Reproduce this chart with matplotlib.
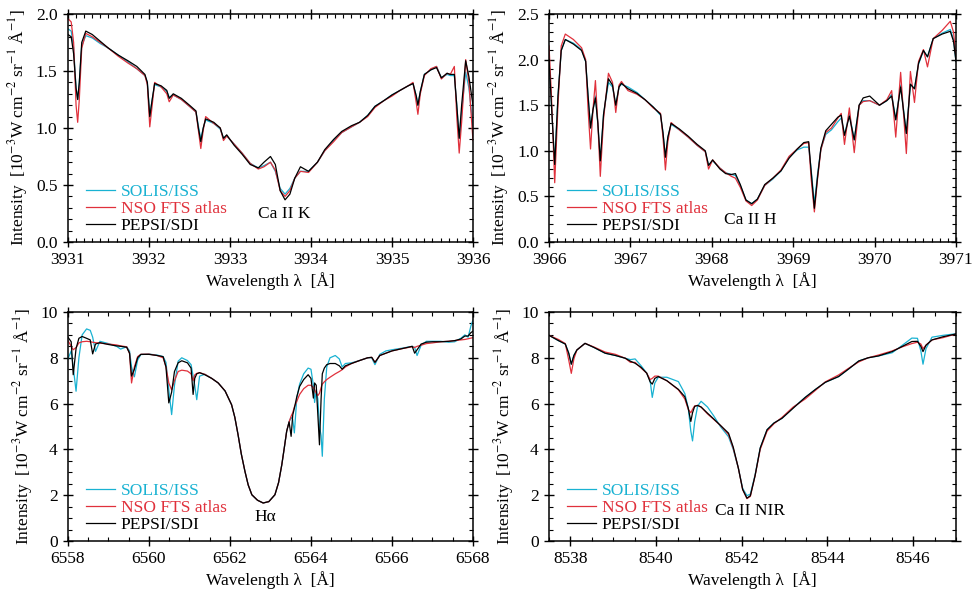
import matplotlib
matplotlib.use("Agg")
import matplotlib.pyplot as plt
from matplotlib.ticker import MultipleLocator

plt.rcParams['font.family'] = ['Liberation Serif', 'DejaVu Serif']
plt.rcParams['mathtext.fontset'] = 'stix'

# Ca II K
k_wave = [3931.00, 3931.04, 3931.07, 3931.10, 3931.12, 3931.14, 3931.17, 3931.22, 3931.30, 3931.40,
          3931.50, 3931.62, 3931.74, 3931.85, 3931.95, 3931.98, 3932.01, 3932.04, 3932.07, 3932.15,
          3932.22, 3932.25, 3932.30, 3932.40, 3932.50, 3932.58, 3932.61, 3932.64, 3932.67, 3932.70,
          3932.80, 3932.88, 3932.92, 3932.96, 3933.05, 3933.15, 3933.25, 3933.35, 3933.42, 3933.50,
          3933.56, 3933.62, 3933.68, 3933.74, 3933.80, 3933.87, 3933.97, 3934.08, 3934.17, 3934.28,
          3934.38, 3934.50, 3934.60, 3934.70, 3934.79, 3934.90, 3935.00, 3935.10, 3935.20, 3935.26,
          3935.30, 3935.32, 3935.35, 3935.40, 3935.48, 3935.55, 3935.61, 3935.68, 3935.72, 3935.77,
          3935.80, 3935.83, 3935.86, 3935.91, 3935.95, 3936.00]
k_solis = [1.87, 1.85, 1.70, 1.35, 1.25, 1.40, 1.72, 1.81, 1.79, 1.74,
           1.70, 1.64, 1.58, 1.52, 1.46, 1.40, 1.11, 1.25, 1.38, 1.36,
           1.32, 1.27, 1.29, 1.25, 1.19, 1.14, 1.02, 0.90, 1.00, 1.07,
           1.04, 0.99, 0.91, 0.93, 0.86, 0.78, 0.69, 0.65, 0.67, 0.70,
           0.62, 0.47, 0.42, 0.47, 0.56, 0.62, 0.62, 0.70, 0.80, 0.89,
           0.96, 1.01, 1.05, 1.11, 1.19, 1.24, 1.29, 1.33, 1.37, 1.39,
           1.28, 1.20, 1.32, 1.47, 1.51, 1.54, 1.44, 1.47, 1.46, 1.46,
           1.20, 0.91, 1.15, 1.49, 1.35, 1.02]
k_nso = [1.96, 1.93, 1.75, 1.20, 1.05, 1.25, 1.70, 1.83, 1.80, 1.75,
         1.70, 1.63, 1.57, 1.52, 1.46, 1.38, 1.01, 1.20, 1.40, 1.36,
         1.30, 1.23, 1.29, 1.25, 1.19, 1.14, 0.98, 0.82, 0.98, 1.10,
         1.04, 1.00, 0.89, 0.93, 0.86, 0.78, 0.69, 0.64, 0.66, 0.70,
         0.63, 0.45, 0.40, 0.45, 0.56, 0.62, 0.61, 0.70, 0.80, 0.88,
         0.96, 1.01, 1.05, 1.10, 1.18, 1.24, 1.28, 1.33, 1.37, 1.40,
         1.22, 1.12, 1.30, 1.46, 1.52, 1.54, 1.43, 1.48, 1.47, 1.54,
         1.10, 0.78, 1.05, 1.60, 1.40, 0.89]
k_pepsi = [1.82, 1.80, 1.65, 1.35, 1.25, 1.40, 1.75, 1.85, 1.82, 1.76,
           1.70, 1.64, 1.59, 1.54, 1.47, 1.40, 1.10, 1.25, 1.39, 1.37,
           1.33, 1.26, 1.30, 1.26, 1.20, 1.15, 1.00, 0.88, 1.00, 1.08,
           1.05, 1.00, 0.91, 0.94, 0.85, 0.77, 0.68, 0.65, 0.70, 0.75,
           0.68, 0.45, 0.37, 0.42, 0.56, 0.66, 0.62, 0.70, 0.81, 0.90,
           0.97, 1.02, 1.05, 1.11, 1.19, 1.24, 1.29, 1.33, 1.37, 1.39,
           1.28, 1.20, 1.32, 1.47, 1.51, 1.53, 1.44, 1.48, 1.47, 1.47,
           1.20, 0.91, 1.20, 1.59, 1.45, 1.20]

# Ca II H
h_wave = [3966.00, 3966.03, 3966.07, 3966.11, 3966.15, 3966.20, 3966.30, 3966.40, 3966.45, 3966.48,
          3966.51, 3966.54, 3966.57, 3966.60, 3966.63, 3966.67, 3966.73, 3966.78, 3966.82, 3966.86,
          3966.89, 3966.97, 3967.08, 3967.18, 3967.28, 3967.37, 3967.40, 3967.43, 3967.46, 3967.50,
          3967.60, 3967.71, 3967.82, 3967.92, 3967.96, 3968.01, 3968.10, 3968.17, 3968.24, 3968.29,
          3968.35, 3968.42, 3968.49, 3968.56, 3968.65, 3968.75, 3968.85, 3968.95, 3969.05, 3969.13,
          3969.19, 3969.22, 3969.26, 3969.30, 3969.34, 3969.40, 3969.47, 3969.55, 3969.59, 3969.63,
          3969.69, 3969.75, 3969.81, 3969.86, 3969.94, 3970.06, 3970.15, 3970.21, 3970.26, 3970.32,
          3970.39, 3970.44, 3970.49, 3970.54, 3970.60, 3970.65, 3970.72, 3970.83, 3970.93, 3970.97,
          3971.00]
h_solis = [2.00, 1.50, 0.85, 1.60, 2.10, 2.22, 2.18, 2.11, 1.98, 1.60,
           1.25, 1.45, 1.60, 1.30, 0.89, 1.40, 1.75, 1.70, 1.50, 1.70,
           1.73, 1.70, 1.64, 1.56, 1.48, 1.39, 1.20, 0.93, 1.15, 1.29,
           1.23, 1.15, 1.06, 0.99, 0.84, 0.89, 0.81, 0.76, 0.74, 0.73,
           0.62, 0.46, 0.42, 0.47, 0.62, 0.69, 0.78, 0.93, 1.01, 1.04,
           1.04, 0.80, 0.42, 0.75, 1.02, 1.18, 1.23, 1.32, 1.36, 1.17,
           1.41, 1.12, 1.50, 1.55, 1.55, 1.50, 1.55, 1.62, 1.34, 1.72,
           1.19, 1.73, 1.68, 1.95, 2.10, 2.03, 2.23, 2.29, 2.33, 2.22,
           1.98]
h_nso = [2.15, 1.60, 0.65, 1.50, 2.15, 2.28, 2.22, 2.13, 2.00, 1.45,
         1.02, 1.45, 1.77, 1.30, 0.72, 1.35, 1.85, 1.75, 1.42, 1.72,
         1.76, 1.66, 1.62, 1.56, 1.47, 1.41, 1.15, 0.79, 1.10, 1.31,
         1.23, 1.15, 1.06, 0.99, 0.80, 0.90, 0.81, 0.76, 0.72, 0.70,
         0.60, 0.45, 0.40, 0.46, 0.62, 0.70, 0.79, 0.94, 1.02, 1.08,
         1.09, 0.70, 0.33, 0.70, 1.01, 1.20, 1.25, 1.36, 1.41, 1.07,
         1.47, 0.98, 1.50, 1.54, 1.55, 1.50, 1.56, 1.66, 1.15, 1.86,
         0.97, 1.87, 1.53, 1.98, 2.11, 1.92, 2.23, 2.32, 2.42, 2.30,
         2.02]
h_pepsi = [2.00, 1.50, 0.85, 1.60, 2.10, 2.22, 2.17, 2.10, 1.98, 1.60,
           1.25, 1.45, 1.58, 1.30, 0.89, 1.40, 1.79, 1.72, 1.50, 1.70,
           1.74, 1.68, 1.63, 1.56, 1.48, 1.40, 1.20, 0.93, 1.15, 1.30,
           1.24, 1.16, 1.07, 1.00, 0.84, 0.90, 0.80, 0.75, 0.74, 0.75,
           0.63, 0.46, 0.42, 0.47, 0.63, 0.70, 0.78, 0.92, 1.02, 1.09,
           1.10, 0.78, 0.37, 0.72, 1.03, 1.22, 1.29, 1.37, 1.39, 1.17,
           1.38, 1.12, 1.50, 1.58, 1.60, 1.50, 1.55, 1.60, 1.34, 1.70,
           1.19, 1.73, 1.68, 1.96, 2.10, 2.03, 2.23, 2.28, 2.31, 2.20,
           1.98]

# H alpha
ha_wave = [6558.00, 6558.08, 6558.13, 6558.20, 6558.27, 6558.35, 6558.46, 6558.55, 6558.61, 6558.68,
           6558.79, 6559.00, 6559.20, 6559.30, 6559.45, 6559.52, 6559.57, 6559.64, 6559.72, 6559.80,
           6560.00, 6560.20, 6560.35, 6560.42, 6560.49, 6560.56, 6560.63, 6560.72, 6560.81, 6560.95,
           6561.04, 6561.09, 6561.13, 6561.18, 6561.25, 6561.38, 6561.55, 6561.71, 6561.88, 6562.04,
           6562.12, 6562.20, 6562.28, 6562.37, 6562.45, 6562.54, 6562.68, 6562.82, 6562.96, 6563.11,
           6563.20, 6563.28, 6563.34, 6563.40, 6563.46, 6563.51, 6563.55, 6563.59, 6563.65, 6563.72,
           6563.82, 6563.93, 6564.00, 6564.06, 6564.09, 6564.13, 6564.17, 6564.21, 6564.25, 6564.28,
           6564.33, 6564.39, 6564.47, 6564.60, 6564.70, 6564.77, 6564.85, 6565.00, 6565.20, 6565.40,
           6565.50, 6565.58, 6565.70, 6565.85, 6566.00, 6566.25, 6566.50, 6566.56, 6566.62, 6566.72,
           6566.85, 6567.00, 6567.20, 6567.40, 6567.55, 6567.70, 6567.80, 6567.88, 6567.95, 6568.00]
ha_solis = [7.95, 8.30, 7.60, 6.54, 8.00, 9.00, 9.26, 9.20, 8.90, 8.28,
            8.72, 8.62, 8.50, 8.38, 8.48, 8.30, 7.60, 7.17, 7.90, 8.14,
            8.16, 8.12, 8.05, 7.80, 6.60, 5.52, 6.80, 7.85, 8.00, 7.88,
            7.70, 7.20, 6.80, 6.17, 7.20, 7.28, 7.10, 6.90, 6.55, 5.95,
            5.40, 4.64, 3.80, 3.04, 2.45, 2.02, 1.78, 1.66, 1.72, 2.02,
            2.55, 3.33, 4.05, 4.79, 5.20, 5.40, 5.30, 4.72, 6.24, 6.85,
            7.30, 7.55, 7.50, 6.80, 6.05, 6.60, 6.20, 5.00, 4.60, 3.70,
            6.20, 7.60, 8.00, 8.10, 7.95, 7.60, 7.75, 7.78, 7.88, 8.00,
            8.00, 7.70, 8.15, 8.30, 8.35, 8.42, 8.50, 8.45, 8.10, 8.55,
            8.72, 8.72, 8.72, 8.68, 8.70, 8.85, 9.00, 8.90, 9.40, 9.64]
ha_nso = [8.75, 8.50, 8.35, 8.45, 8.65, 8.70, 8.72, 8.70, 8.68, 8.66,
          8.64, 8.60, 8.56, 8.52, 8.48, 8.20, 6.90, 7.60, 8.05, 8.15,
          8.16, 8.10, 8.00, 7.60, 6.90, 6.60, 7.00, 7.40, 7.46, 7.42,
          7.30, 7.00, 7.25, 7.32, 7.35, 7.28, 7.10, 6.90, 6.55, 5.95,
          5.40, 4.64, 3.80, 3.04, 2.45, 2.02, 1.78, 1.66, 1.72, 2.02,
          2.55, 3.33, 4.05, 4.79, 5.20, 5.45, 5.60, 5.85, 6.10, 6.40,
          6.65, 6.80, 6.80, 6.70, 6.60, 6.45, 6.35, 6.45, 6.70, 6.85,
          6.95, 7.05, 7.15, 7.30, 7.40, 7.48, 7.60, 7.75, 7.88, 8.00,
          8.02, 7.80, 8.10, 8.20, 8.30, 8.40, 8.48, 8.45, 8.50, 8.55,
          8.62, 8.65, 8.70, 8.72, 8.75, 8.78, 8.80, 8.83, 8.86, 8.88]
ha_pepsi = [8.90, 8.70, 7.26, 8.40, 8.85, 8.93, 8.85, 8.78, 8.17, 8.60,
            8.66, 8.58, 8.52, 8.50, 8.46, 8.20, 7.20, 7.50, 8.00, 8.15,
            8.15, 8.10, 8.05, 7.60, 6.03, 6.50, 7.40, 7.78, 7.87, 7.78,
            7.55, 6.40, 7.10, 7.30, 7.35, 7.26, 7.10, 6.90, 6.55, 5.95,
            5.40, 4.64, 3.80, 3.04, 2.45, 2.02, 1.78, 1.66, 1.72, 2.02,
            2.55, 3.33, 4.05, 4.79, 5.20, 4.57, 5.50, 5.80, 6.30, 6.75,
            7.05, 7.26, 7.10, 6.24, 6.90, 6.80, 5.50, 4.20, 6.20, 7.30,
            7.55, 7.70, 7.75, 7.75, 7.65, 7.50, 7.65, 7.75, 7.88, 8.00,
            8.02, 7.80, 8.10, 8.20, 8.30, 8.40, 8.50, 8.20, 8.35, 8.60,
            8.68, 8.70, 8.70, 8.72, 8.75, 8.82, 8.95, 8.95, 9.10, 9.16]

# Ca II 8542
ir_wave = [8537.50, 8537.72, 8537.88, 8537.96, 8538.02, 8538.08, 8538.15, 8538.34, 8538.55, 8538.81,
           8539.05, 8539.28, 8539.40, 8539.51, 8539.65, 8539.78, 8539.86, 8539.91, 8539.97, 8540.05,
           8540.25, 8540.52, 8540.67, 8540.75, 8540.81, 8540.85, 8540.90, 8540.97, 8541.05, 8541.20,
           8541.35, 8541.50, 8541.69, 8541.80, 8541.92, 8542.02, 8542.12, 8542.20, 8542.31, 8542.43,
           8542.59, 8542.75, 8542.94, 8543.20, 8543.48, 8543.72, 8543.95, 8544.26, 8544.50, 8544.73,
           8544.95, 8545.19, 8545.51, 8545.75, 8545.97, 8546.10, 8546.18, 8546.23, 8546.30, 8546.44,
           8546.70, 8547.00]
ir_solis = [8.98, 8.75, 8.60, 8.20, 7.72, 8.10, 8.34, 8.63, 8.45, 8.20,
            8.10, 7.98, 7.92, 7.95, 7.65, 7.33, 7.00, 6.27, 6.90, 7.15,
            7.15, 6.96, 6.44, 5.80, 4.80, 4.37, 5.20, 5.90, 6.10, 5.85,
            5.45, 5.00, 4.55, 4.00, 3.18, 2.30, 1.98, 2.05, 2.89, 4.06,
            4.86, 5.15, 5.36, 5.82, 6.27, 6.62, 6.93, 7.18, 7.52, 7.86,
            8.00, 8.08, 8.22, 8.55, 8.86, 8.85, 8.30, 7.72, 8.40, 8.90,
            8.98, 9.05]
ir_nso = [8.98, 8.80, 8.62, 7.90, 7.32, 7.95, 8.34, 8.63, 8.47, 8.25,
          8.15, 7.98, 7.80, 7.80, 7.55, 7.33, 7.05, 7.10, 7.20, 7.20,
          7.00, 6.60, 6.20, 5.75, 5.60, 5.75, 5.90, 5.92, 5.85, 5.55,
          5.30, 5.05, 4.65, 4.05, 3.18, 2.25, 1.85, 1.95, 2.85, 4.00,
          4.80, 5.12, 5.40, 5.85, 6.20, 6.58, 6.95, 7.25, 7.55, 7.82,
          8.00, 8.12, 8.30, 8.48, 8.62, 8.68, 8.60, 8.40, 8.55, 8.78,
          8.88, 9.04]
ir_pepsi = [8.98, 8.75, 8.60, 8.20, 7.72, 8.10, 8.34, 8.63, 8.45, 8.20,
            8.10, 7.98, 7.85, 7.76, 7.58, 7.33, 6.95, 6.85, 7.10, 7.18,
            7.00, 6.62, 6.30, 5.80, 5.22, 5.60, 5.88, 5.92, 5.85, 5.58,
            5.32, 5.05, 4.71, 4.10, 3.18, 2.25, 1.87, 1.98, 2.85, 4.06,
            4.86, 5.15, 5.36, 5.80, 6.27, 6.62, 6.93, 7.18, 7.52, 7.86,
            8.00, 8.08, 8.27, 8.50, 8.71, 8.72, 8.50, 8.27, 8.55, 8.78,
            8.92, 9.04]

names = ["SOLIS/ISS", "NSO FTS atlas", "PEPSI/SDI"]
colors = ["#19b2d2", "#e0313c", "black"]

panels = [
    (k_wave, [k_solis, k_nso, k_pepsi], (3931, 3936), (0, 2.0), 1, 0.1, 0.5, 0.1,
     "Ca II K", (3933.67, 0.25), "%.1f"),
    (h_wave, [h_solis, h_nso, h_pepsi], (3966, 3971), (0, 2.5), 1, 0.1, 0.5, 0.1,
     "Ca II H", (3968.47, 0.24), "%.1f"),
    (ha_wave, [ha_solis, ha_nso, ha_pepsi], (6558, 6568), (0, 10), 2, 0.5, 2, 0.5,
     "H\u03b1", (6562.86, 1.06), "%d"),
    (ir_wave, [ir_solis, ir_nso, ir_pepsi], (8537.5, 8547), (0, 10), 2, 0.5, 2, 0.5,
     "Ca II NIR", (8542.2, 1.31), "%d"),
]

fig = plt.figure(figsize=(9.75, 5.98), dpi=100)
boxes = [[0.0697, 0.5953, 0.4154, 0.3813], [0.5631, 0.5953, 0.4174, 0.3813],
         [0.0697, 0.0953, 0.4154, 0.3830], [0.5631, 0.0953, 0.4174, 0.3830]]

for box, p in zip(boxes, panels):
    wave, series, xlim, ylim, xmaj, xmin, ymaj, ymin, line_name, pos, fmt = p
    ax = fig.add_axes(box)
    for y, c, n in zip(series, colors, names):
        ax.plot(wave, y, color=c, linewidth=0.9, label=n)
    ax.set_xlim(xlim)
    ax.set_ylim(ylim)
    ax.xaxis.set_major_locator(MultipleLocator(xmaj))
    ax.xaxis.set_minor_locator(MultipleLocator(xmin))
    ax.yaxis.set_major_locator(MultipleLocator(ymaj))
    ax.yaxis.set_minor_locator(MultipleLocator(ymin))
    ax.yaxis.set_major_formatter(plt.FormatStrFormatter(fmt))
    ax.xaxis.set_major_formatter(plt.FormatStrFormatter("%d"))
    ax.tick_params(which='major', direction='inout', length=7, width=1,
                   top=True, right=True, labelsize=12.5, pad=4)
    ax.tick_params(which='minor', direction='in', length=3, width=0.8,
                   top=True, right=True)
    for s in ax.spines.values():
        s.set_linewidth(1.1)
    ax.set_xlabel("Wavelength \u03bb  [\u00c5]", fontsize=12.5, labelpad=3)
    ax.set_ylabel("Intensity  [10$^{-3}$W cm$^{-2}$ sr$^{-1}$ \u00c5$^{-1}$]", fontsize=12.5,
                  labelpad=4)
    ax.text(pos[0], pos[1], line_name, fontsize=12.5, ha='center', va='center')
    ax.legend(loc='lower left', frameon=False, fontsize=12.5, labelcolor='linecolor',
              handlelength=1.65, handletextpad=0.35, labelspacing=0.05,
              borderaxespad=0.05, bbox_to_anchor=(0.025, 0.0))

fig.savefig("out.png", dpi=100)
